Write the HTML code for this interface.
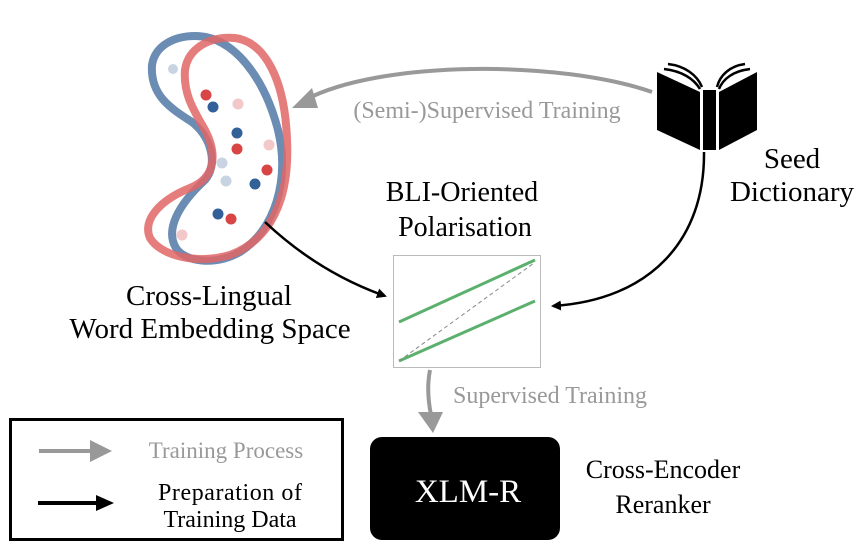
<!DOCTYPE html>
<html><head><style>
body{margin:0;background:#fff;}
svg{display:block;font-family:"Liberation Serif",serif;}
</style></head><body>
<svg width="865" height="550" viewBox="0 0 865 550">
<defs>
<marker id="ab" markerWidth="10" markerHeight="10" refX="8" refY="5" orient="auto" markerUnits="userSpaceOnUse" viewBox="0 0 10 10"><path d="M0,0 L10,5 L0,10 z" fill="#000"/></marker>
</defs>
<!-- blue blob -->
<path d="M195,36 C235,36 265,80 278,130 C290,180 275,230 240,252 C215,266 185,262 176,248 C165,230 178,205 205,180 C218,165 212,138 192,122 C170,108 150,95 152,65 C155,45 175,36 195,36 Z" fill="none" stroke="#5b7fab" stroke-width="8" opacity="0.9"/>
<!-- red blob -->
<path d="M235,38 C265,42 285,80 287,140 C290,200 270,240 230,255 C195,265 160,255 150,238 C142,220 160,200 190,188 C215,178 218,155 205,130 C195,112 183,95 185,70 C188,48 210,36 235,38 Z" fill="none" stroke="#e06666" stroke-width="8" opacity="0.85"/>
<g>
<circle cx="173" cy="69" r="5" fill="#c9d4e3"/>
<circle cx="206" cy="95" r="5.5" fill="#d94545"/>
<circle cx="213" cy="107" r="5.5" fill="#34609a"/>
<circle cx="238" cy="104" r="5.5" fill="#f2c8c8"/>
<circle cx="237" cy="133" r="5.5" fill="#34609a"/>
<circle cx="237" cy="149" r="5.5" fill="#d94545"/>
<circle cx="269" cy="145" r="5.5" fill="#f2c8c8"/>
<circle cx="222" cy="163" r="5.5" fill="#c9d4e3"/>
<circle cx="267" cy="170" r="5.5" fill="#d94545"/>
<circle cx="226" cy="181" r="5.5" fill="#c9d4e3"/>
<circle cx="255" cy="184" r="5.5" fill="#34609a"/>
<circle cx="218" cy="214" r="5.5" fill="#34609a"/>
<circle cx="231" cy="219" r="5.5" fill="#d94545"/>
<circle cx="182" cy="235" r="5.5" fill="#f2c8c8"/>
</g>
<!-- book -->
<g fill="#000">
<polygon points="657,72 700,92 700,150 657,130"/>
<rect x="703" y="90" width="13" height="60"/>
<polygon points="719,92 757,72 757,130 719,150"/>
<path d="M668,64 C685,66 697,75 702,87" stroke="#000" stroke-width="2.5" fill="none"/>
<path d="M664,69 C682,71 694,79 700,89" stroke="#000" stroke-width="2.5" fill="none"/>
<path d="M745,64 C730,66 720,75 717,87" stroke="#000" stroke-width="2.5" fill="none"/>
<path d="M750,69 C733,71 723,79 719,89" stroke="#000" stroke-width="2.5" fill="none"/>
</g>
<!-- gray arrow semi-supervised -->
<path d="M652,92 C560,60 380,60 305,100" fill="none" stroke="#999" stroke-width="4"/>
<polygon points="292,108 312,88 318,108" fill="#999"/>
<text x="487" y="118" font-size="24" fill="#999" text-anchor="middle">(Semi-)Supervised Training</text>
<text x="792" y="168" font-size="29" text-anchor="middle">Seed</text>
<text x="792" y="201" font-size="29" text-anchor="middle">Dictionary</text>
<text x="462" y="201" font-size="28" text-anchor="middle">BLI-Oriented</text>
<text x="465" y="236" font-size="28" text-anchor="middle">Polarisation</text>
<text x="209" y="305" font-size="29" text-anchor="middle">Cross-Lingual</text>
<text x="210" y="338" font-size="29" text-anchor="middle">Word Embedding Space</text>
<!-- black arrows -->
<path d="M265,222 C300,255 340,280 385,296" fill="none" stroke="#000" stroke-width="2.5" marker-end="url(#ab)"/>
<path d="M704,152 C705,240 650,300 553,306" fill="none" stroke="#000" stroke-width="2.5" marker-end="url(#ab)"/>
<!-- polarisation box -->
<rect x="393.5" y="255.5" width="147" height="112" fill="#fff" stroke="#bbb" stroke-width="1"/>
<line x1="399" y1="322" x2="535" y2="260" stroke="#5cb06e" stroke-width="3"/>
<line x1="399" y1="361" x2="535" y2="301" stroke="#5cb06e" stroke-width="3"/>
<line x1="399" y1="361" x2="534" y2="263" stroke="#888" stroke-width="1" stroke-dasharray="4,3"/>
<!-- supervised training arrow -->
<path d="M430,370 C427,385 428,400 431,415" fill="none" stroke="#999" stroke-width="4"/>
<polygon points="418,412 443,412 433,433" fill="#999"/>
<text x="550" y="403" font-size="24" fill="#999" text-anchor="middle">Supervised Training</text>
<!-- XLM-R -->
<rect x="370" y="437" width="190" height="103" rx="12" fill="#000"/>
<text x="468" y="502" font-size="33" fill="#fff" text-anchor="middle">XLM-R</text>
<text x="663" y="478" font-size="26" text-anchor="middle">Cross-Encoder</text>
<text x="663" y="513" font-size="26" text-anchor="middle">Reranker</text>
<!-- legend -->
<rect x="10.5" y="419.5" width="332" height="120" fill="none" stroke="#000" stroke-width="3"/>
<line x1="39" y1="451" x2="92" y2="451" stroke="#999" stroke-width="4"/>
<polygon points="90,440 112,451 90,462" fill="#999"/>
<text x="226" y="458" font-size="23" fill="#999" text-anchor="middle">Training Process</text>
<line x1="38" y1="503" x2="96" y2="503" stroke="#000" stroke-width="4"/>
<polygon points="96,495 114,503 96,511" fill="#000"/>
<text x="230" y="500" font-size="24" text-anchor="middle" textLength="144">Preparation of</text>
<text x="230" y="527" font-size="24" text-anchor="middle">Training Data</text>
</svg>
</body></html>
